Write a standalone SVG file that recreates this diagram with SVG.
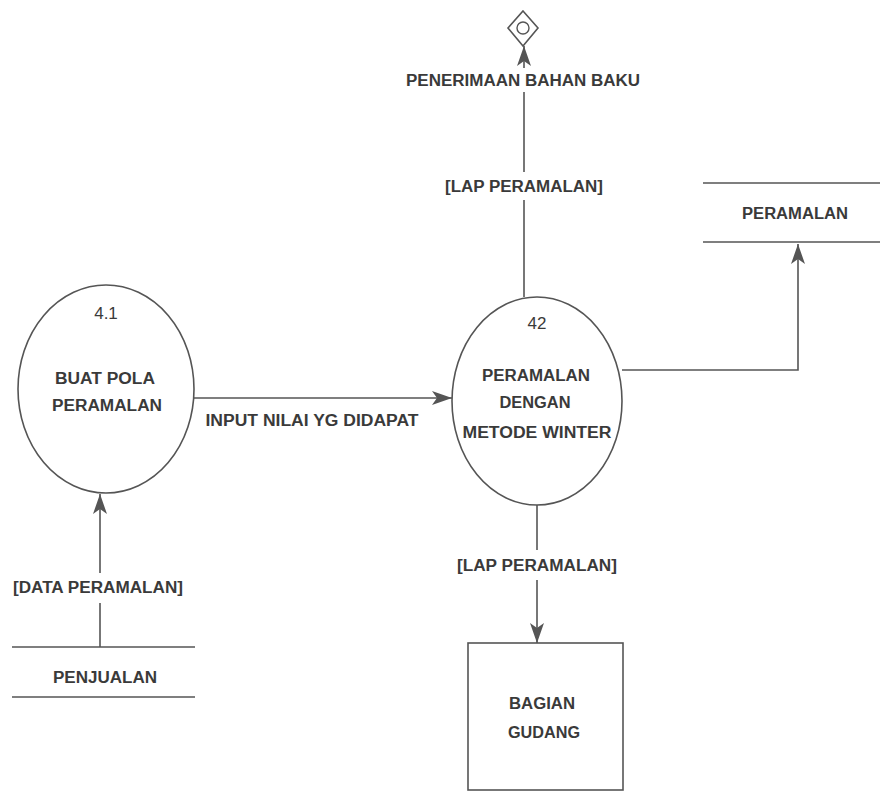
<svg xmlns="http://www.w3.org/2000/svg" width="880" height="792" viewBox="0 0 880 792">
  <style>
    .ln { stroke: #555; stroke-width: 1.6; fill: none; }
    .shape { stroke: #555; stroke-width: 1.6; fill: #fff; }
    .t { font-family: "Liberation Sans", Arial, sans-serif; font-size: 16px; font-weight: bold; fill: #3a3a3a; text-anchor: middle; dominant-baseline: central; }
    .n { font-weight: normal; font-size: 17px; }
  </style>
  <defs>
    <marker id="arrow" viewBox="0 0 20 14" refX="20" refY="7" markerWidth="20" markerHeight="14" markerUnits="userSpaceOnUse" orient="auto">
      <path d="M0,0 L20,7 L0,14 L5,7 Z" fill="#555"/>
    </marker>
  </defs>
  <rect width="880" height="792" fill="#fff"/>

  <!-- connectors -->
  <g id="connectors">
    <!-- 4.1 -> 4.2 -->
    <line class="ln" x1="194" y1="398" x2="452" y2="398" marker-end="url(#arrow)"/>
    <!-- PENJUALAN -> 4.1 -->
    <line class="ln" x1="100" y1="647" x2="100" y2="603"/>
    <line class="ln" x1="100" y1="573" x2="100" y2="494" marker-end="url(#arrow)"/>
    <!-- 4.2 -> PENERIMAAN BAHAN BAKU -->
    <line class="ln" x1="524" y1="297" x2="524" y2="200"/>
    <line class="ln" x1="524" y1="172" x2="524" y2="92"/>
    <line class="ln" x1="524" y1="68" x2="524" y2="46" marker-end="url(#arrow)"/>
    <!-- 4.2 -> PERAMALAN store -->
    <polyline class="ln" points="622,370 798,370 798,244" marker-end="url(#arrow)"/>
    <!-- 4.2 -> BAGIAN GUDANG -->
    <line class="ln" x1="537" y1="505" x2="537" y2="550"/>
    <line class="ln" x1="537" y1="580" x2="537" y2="643" marker-end="url(#arrow)"/>
    <text class="t" x="312" y="420" textLength="213" lengthAdjust="spacingAndGlyphs">INPUT NILAI YG DIDAPAT</text>
    <text class="t" x="98" y="587" textLength="170" lengthAdjust="spacingAndGlyphs">[DATA PERAMALAN]</text>
    <text class="t" x="523" y="80" textLength="234" lengthAdjust="spacingAndGlyphs">PENERIMAAN BAHAN BAKU</text>
    <text class="t" x="524" y="186" textLength="158" lengthAdjust="spacingAndGlyphs">[LAP PERAMALAN]</text>
    <text class="t" x="537" y="565" textLength="160" lengthAdjust="spacingAndGlyphs">[LAP PERAMALAN]</text>
  </g>

  <!-- off-page connector -->
  <g id="offpage">
    <polygon class="shape" points="523,11 538,28 523,46 508,28"/>
    <circle cx="523" cy="28" r="6" fill="none" stroke="#555" stroke-width="1.4"/>
  </g>

  <!-- process 4.1 -->
  <g id="p41">
    <ellipse class="shape" cx="106" cy="389" rx="88" ry="104"/>
    <text class="t n" x="106" y="313">4.1</text>
    <text class="t" x="105" y="378" textLength="100" lengthAdjust="spacingAndGlyphs">BUAT POLA</text>
    <text class="t" x="107" y="405" textLength="110" lengthAdjust="spacingAndGlyphs">PERAMALAN</text>
  </g>

  <!-- process 4.2 -->
  <g id="p42">
    <ellipse class="shape" cx="537" cy="401" rx="85" ry="104"/>
    <text class="t n" x="537" y="323">42</text>
    <text class="t" x="536" y="375" textLength="108" lengthAdjust="spacingAndGlyphs">PERAMALAN</text>
    <text class="t" x="535" y="402" textLength="71" lengthAdjust="spacingAndGlyphs">DENGAN</text>
    <text class="t" x="537" y="432" textLength="149" lengthAdjust="spacingAndGlyphs">METODE WINTER</text>
  </g>

  <!-- data store PERAMALAN -->
  <g id="store-peramalan">
    <line class="ln" x1="703" y1="183" x2="880" y2="183"/>
    <line class="ln" x1="703" y1="242" x2="880" y2="242"/>
    <text class="t" x="795" y="213" textLength="106" lengthAdjust="spacingAndGlyphs">PERAMALAN</text>
  </g>

  <!-- data store PENJUALAN -->
  <g id="store-penjualan">
    <line class="ln" x1="12" y1="647" x2="195" y2="647"/>
    <line class="ln" x1="12" y1="697" x2="195" y2="697"/>
    <text class="t" x="105" y="677" textLength="104" lengthAdjust="spacingAndGlyphs">PENJUALAN</text>
  </g>

  <!-- external entity BAGIAN GUDANG -->
  <g id="gudang">
    <rect class="shape" x="468" y="643" width="155" height="147"/>
    <text class="t" x="542" y="703" textLength="66" lengthAdjust="spacingAndGlyphs">BAGIAN</text>
    <text class="t" x="544" y="732" textLength="72" lengthAdjust="spacingAndGlyphs">GUDANG</text>
  </g>
</svg>
